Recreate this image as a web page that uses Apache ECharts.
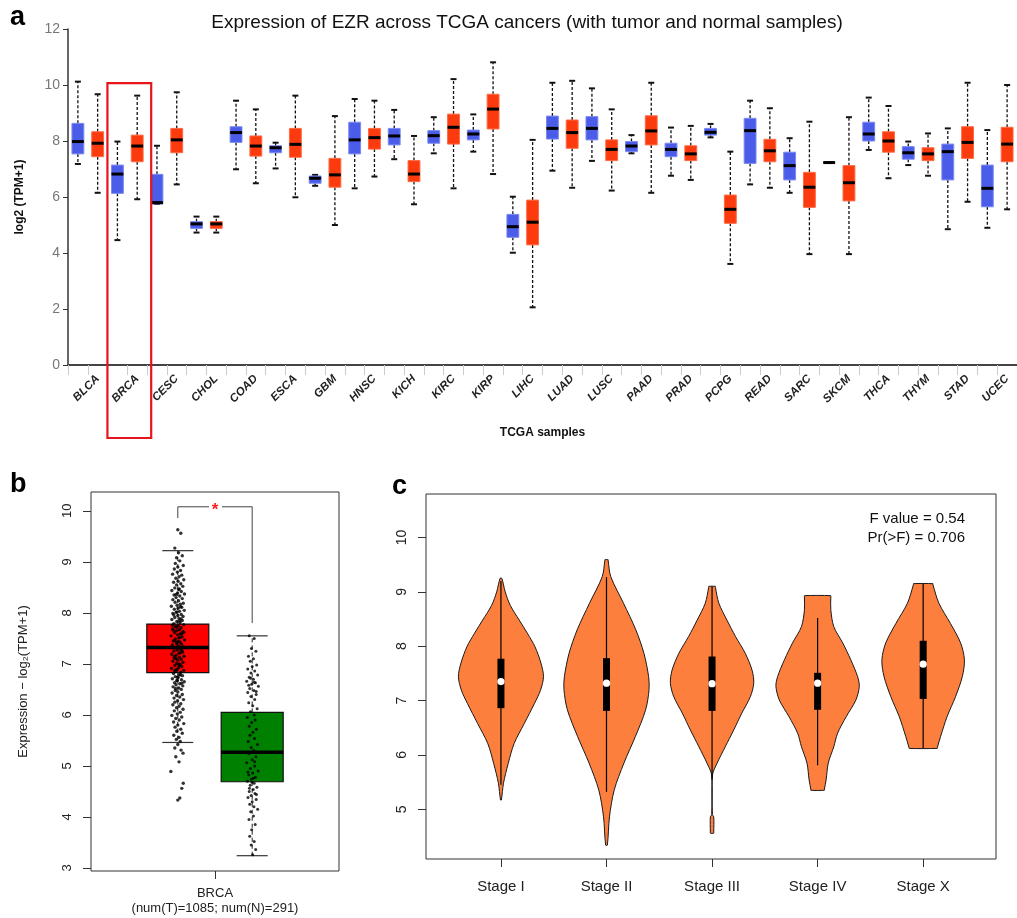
<!DOCTYPE html>
<html>
<head>
<meta charset="utf-8">
<script src="https://cdn.jsdelivr.net/npm/echarts@6/dist/echarts.min.js"></script>
<style>
  html, body { margin: 0; padding: 0; background: #fff; }
  #main { width: 1017px; height: 918px; }
</style>
</head>
<body>
<div id="main"></div>
<script>
// ---- panel a: EZR across TCGA cancers, [min, Q1, median, Q3, max]
const cancers = ['BLCA', 'BRCA', 'CESC', 'CHOL', 'COAD', 'ESCA', 'GBM', 'HNSC', 'KICH', 'KIRC', 'KIRP', 'LIHC',
  'LUAD', 'LUSC', 'PAAD', 'PRAD', 'PCPG', 'READ', 'SARC', 'SKCM', 'THCA', 'THYM', 'STAD', 'UCEC']
const normalBox = [
  [7.18, 7.54, 7.98, 8.63, 10.12], [4.46, 6.13, 6.82, 7.14, 7.98], [5.75, 5.75, 5.80, 6.81, 7.83],
  [4.73, 4.88, 5.04, 5.12, 5.30], [6.99, 7.95, 8.30, 8.51, 9.44], [7.02, 7.58, 7.76, 7.83, 7.94],
  [6.40, 6.49, 6.67, 6.75, 6.79], [6.31, 7.54, 8.04, 8.67, 9.50], [7.35, 7.86, 8.18, 8.45, 9.11],
  [7.56, 7.92, 8.19, 8.37, 8.85], [7.62, 8.04, 8.25, 8.39, 8.95], [4.01, 4.56, 4.94, 5.38, 6.01],
  [6.94, 8.07, 8.45, 8.89, 10.08], [7.29, 8.04, 8.45, 8.87, 9.88], [7.56, 7.62, 7.82, 7.98, 8.21],
  [6.76, 7.44, 7.70, 7.92, 8.48], [8.13, 8.21, 8.31, 8.45, 8.61], [6.45, 7.20, 8.37, 8.81, 9.44],
  [6.15, 6.61, 7.12, 7.60, 8.10], [7.23, 7.23, 7.23, 7.23, 7.23], [7.68, 8.00, 8.25, 8.67, 9.55],
  [7.14, 7.35, 7.58, 7.80, 7.98], [4.85, 6.61, 7.62, 7.89, 8.45], [4.90, 5.65, 6.31, 7.14, 8.39]
]
const tumorBox = [
  [6.15, 7.44, 7.92, 8.33, 9.67], [5.92, 7.26, 7.82, 8.21, 9.62], [6.45, 7.58, 8.04, 8.45, 9.74],
  [4.73, 4.88, 5.04, 5.12, 5.30], [6.49, 7.46, 7.82, 8.18, 9.13], [5.99, 7.42, 7.88, 8.45, 9.62],
  [5.00, 6.35, 6.79, 7.38, 8.89], [6.73, 7.71, 8.12, 8.45, 9.44], [5.74, 6.55, 6.82, 7.30, 8.18],
  [6.31, 7.89, 8.49, 8.96, 10.21], [6.82, 8.43, 9.14, 9.67, 10.81], [2.06, 4.29, 5.10, 5.89, 8.04],
  [6.33, 7.74, 8.30, 8.75, 10.15], [6.23, 7.30, 7.70, 8.04, 9.13], [6.15, 7.86, 8.36, 8.90, 10.08],
  [6.61, 7.30, 7.54, 7.83, 8.54], [3.61, 5.06, 5.56, 6.07, 7.62], [6.33, 7.26, 7.65, 8.06, 9.17],
  [3.96, 5.63, 6.35, 6.88, 8.69], [3.96, 5.86, 6.51, 7.12, 8.85], [6.67, 7.60, 8.00, 8.33, 9.25],
  [6.76, 7.30, 7.54, 7.76, 8.27], [5.83, 7.38, 7.95, 8.51, 10.08], [5.56, 7.26, 7.89, 8.49, 10.0]
]

// ---- panel b: BRCA tumor vs normal
const brcaBoxes = [[5.46, 6.83, 7.32, 7.78, 9.22], [3.24, 4.69, 5.27, 6.05, 7.55]]
const brcaPos = [0.85, 1.15]
const brcaColors = ['#ff0000', '#008000']
const yTicksB = [3, 4, 5, 6, 7, 8, 9, 10]
const bracketY = [9.86, 10.08, 7.8]
const tumorPoints = [
  [0.85, 9.63], [0.862, 9.56], [0.838, 9.27], [0.853, 9.18], [0.868, 9.12], [0.845, 9.08], [0.858, 9.02], [0.84, 8.97], [0.872, 8.93], [0.85, 8.9],
  [0.836, 8.86], [0.861, 8.83], [0.848, 8.8], [0.829, 8.76], [0.866, 8.74], [0.855, 8.71], [0.842, 8.68], [0.874, 8.65], [0.851, 8.62], [0.833, 8.6],
  [0.862, 8.57], [0.845, 8.55], [0.87, 8.52], [0.838, 8.49], [0.856, 8.47], [0.826, 8.44], [0.864, 8.42], [0.849, 8.39], [0.877, 8.37], [0.835, 8.35],
  [0.858, 8.33], [0.843, 8.3], [0.868, 8.28], [0.83, 8.26], [0.853, 8.24], [0.839, 8.21], [0.872, 8.19], [0.86, 8.17], [0.847, 8.15], [0.824, 8.13],
  [0.866, 8.11], [0.851, 8.09], [0.836, 8.07], [0.876, 8.05], [0.857, 8.03], [0.843, 8.01], [0.83, 7.99], [0.864, 7.97], [0.85, 7.95], [0.871, 7.93],
  [0.838, 7.91], [0.855, 7.89], [0.826, 7.87], [0.868, 7.85], [0.846, 7.83], [0.859, 7.81], [0.834, 7.79], [0.874, 7.77], [0.852, 7.75], [0.841, 7.73],
  [0.863, 7.71], [0.829, 7.69], [0.856, 7.67], [0.845, 7.65], [0.87, 7.63], [0.837, 7.61], [0.86, 7.59], [0.849, 7.57], [0.823, 7.55], [0.867, 7.53],
  [0.854, 7.51], [0.84, 7.49], [0.877, 7.47], [0.832, 7.45], [0.858, 7.43], [0.846, 7.41], [0.865, 7.39], [0.828, 7.37], [0.852, 7.35], [0.872, 7.33],
  [0.839, 7.31], [0.861, 7.29], [0.848, 7.27], [0.834, 7.25], [0.869, 7.23], [0.855, 7.21], [0.826, 7.19], [0.843, 7.17], [0.875, 7.15], [0.857, 7.13],
  [0.836, 7.11], [0.864, 7.09], [0.85, 7.07], [0.83, 7.05], [0.871, 7.03], [0.845, 7.01], [0.859, 6.99], [0.838, 6.97], [0.866, 6.95], [0.853, 6.93],
  [0.825, 6.91], [0.848, 6.89], [0.874, 6.87], [0.842, 6.85], [0.862, 6.83], [0.833, 6.81], [0.856, 6.79], [0.869, 6.77], [0.84, 6.75], [0.851, 6.73],
  [0.828, 6.71], [0.865, 6.69], [0.846, 6.67], [0.876, 6.65], [0.837, 6.63], [0.858, 6.61], [0.843, 6.59], [0.87, 6.57], [0.831, 6.55], [0.854, 6.53],
  [0.864, 6.5], [0.84, 6.48], [0.85, 6.45], [0.827, 6.43], [0.868, 6.4], [0.845, 6.38], [0.858, 6.35], [0.835, 6.33], [0.873, 6.3], [0.849, 6.28],
  [0.838, 6.25], [0.862, 6.22], [0.83, 6.2], [0.855, 6.17], [0.845, 6.14], [0.871, 6.11], [0.836, 6.08], [0.86, 6.05], [0.848, 6.02], [0.826, 5.99],
  [0.866, 5.96], [0.842, 5.93], [0.856, 5.9], [0.833, 5.86], [0.874, 5.83], [0.85, 5.8], [0.839, 5.76], [0.862, 5.72], [0.846, 5.68], [0.868, 5.64],
  [0.834, 5.6], [0.855, 5.56], [0.844, 5.52], [0.86, 5.48], [0.85, 5.42], [0.838, 5.35], [0.863, 5.31], [0.871, 5.25], [0.842, 5.18], [0.855, 5.08],
  [0.822, 4.89], [0.872, 4.66], [0.866, 4.56], [0.858, 4.37], [0.85, 4.33],
  [0.843, 8.36], [0.861, 8.12], [0.834, 7.96], [0.857, 7.84], [0.846, 7.72], [0.865, 7.58], [0.838, 7.46], [0.852, 7.34], [0.86, 7.22], [0.844, 7.1],
  [0.856, 6.98], [0.837, 6.86], [0.849, 6.74], [0.866, 6.62], [0.841, 6.52], [0.853, 8.46], [0.847, 8.02], [0.863, 7.88], [0.832, 7.66], [0.858, 7.52],
  [0.845, 7.4], [0.867, 7.26], [0.836, 7.14], [0.854, 7.0], [0.842, 6.88], [0.86, 6.78], [0.848, 6.68], [0.829, 7.76], [0.874, 7.62], [0.851, 7.44]
]
const normalPoints = [
  [1.138, 7.55], [1.158, 7.5], [1.147, 7.3], [1.165, 7.25], [1.135, 7.15], [1.155, 7.1], [1.142, 7.05], [1.168, 6.98], [1.15, 6.95], [1.132, 6.9],
  [1.16, 6.86], [1.145, 6.82], [1.172, 6.78], [1.138, 6.74], [1.155, 6.7], [1.128, 6.66], [1.163, 6.63], [1.148, 6.6], [1.175, 6.56], [1.14, 6.52],
  [1.157, 6.48], [1.132, 6.44], [1.166, 6.4], [1.145, 6.36], [1.16, 6.3], [1.136, 6.24], [1.152, 6.18], [1.17, 6.12], [1.143, 6.06], [1.158, 6.0],
  [1.13, 5.95], [1.162, 5.9], [1.148, 5.85], [1.138, 5.78], [1.167, 5.72], [1.153, 5.66], [1.141, 5.6], [1.159, 5.54], [1.134, 5.48], [1.171, 5.42],
  [1.146, 5.36], [1.156, 5.3], [1.137, 5.24], [1.165, 5.18], [1.15, 5.12], [1.128, 5.06], [1.16, 5.0], [1.143, 4.95], [1.174, 4.9], [1.152, 4.86],
  [1.136, 4.82], [1.163, 4.78], [1.147, 4.74], [1.131, 4.7], [1.158, 4.66], [1.142, 4.62], [1.169, 4.58], [1.154, 4.54], [1.138, 4.5], [1.161, 4.46],
  [1.146, 4.42], [1.133, 4.38], [1.166, 4.34], [1.15, 4.3], [1.14, 4.25], [1.157, 4.2], [1.172, 4.15], [1.144, 4.1], [1.155, 4.02], [1.137, 3.95],
  [1.162, 3.85], [1.148, 3.75], [1.14, 3.62], [1.158, 3.52], [1.146, 3.45], [1.164, 3.36], [1.152, 3.26],
  [1.155, 4.76], [1.139, 4.56], [1.167, 4.44], [1.149, 4.68], [1.133, 4.88], [1.16, 5.08], [1.144, 6.72], [1.158, 6.64], [1.136, 6.58], [1.166, 6.46]
]

// ---- panel c: violin by stage; profiles are [value, relative half-width]
const stages = ['Stage I', 'Stage II', 'Stage III', 'Stage IV', 'Stage X']
const violinStageI = [[5.17, 0.01], [5.48, 0.06], [5.84, 0.17], [6.21, 0.31], [6.58, 0.55], [6.95, 0.79], [7.19, 0.93],
  [7.44, 1.0], [7.69, 0.94], [7.99, 0.8], [8.24, 0.62], [8.48, 0.43], [8.75, 0.22], [9.0, 0.1], [9.25, 0.02]]
const violinStageII = [[4.34, 0.02], [4.86, 0.07], [5.35, 0.18], [5.85, 0.41], [6.34, 0.68], [6.83, 0.92], [7.2, 1.0],
  [7.44, 0.99], [7.87, 0.88], [8.3, 0.69], [8.79, 0.4], [9.28, 0.1], [9.57, 0.04], [9.59, 0.04]]
const violinStageIII = [[4.56, 0.04], [4.58, 0.04], [4.86, 0.04], [4.9, 0.008], [5.63, 0.01], [5.85, 0.12], [6.15, 0.31], [6.46, 0.51],
  [6.77, 0.7], [7.07, 0.9], [7.32, 0.98], [7.56, 0.94], [7.87, 0.78], [8.18, 0.55], [8.48, 0.35], [8.79, 0.16], [9.08, 0.08], [9.1, 0.08]]
const violinStageIV = [[5.35, 0.16], [5.37, 0.16], [5.54, 0.2], [5.85, 0.25], [6.15, 0.38], [6.4, 0.47], [6.7, 0.67], [7.01, 0.9],
  [7.26, 0.98], [7.44, 0.94], [7.75, 0.78], [8.06, 0.59], [8.36, 0.38], [8.67, 0.31], [8.91, 0.31], [8.93, 0.31]]
const violinStageX = [[6.12, 0.33], [6.14, 0.335], [6.34, 0.41], [6.7, 0.56], [7.07, 0.76], [7.44, 0.92], [7.75, 0.97], [8.06, 0.88],
  [8.42, 0.64], [8.79, 0.37], [9.13, 0.23], [9.15, 0.23]]
const violinBoxes = [[5.45, 6.86, 7.35, 7.77, 9.2], [5.32, 6.81, 7.32, 7.78, 9.27], [5.55, 6.81, 7.31, 7.81, 9.1],
  [5.81, 6.83, 7.32, 7.51, 8.52], [6.12, 7.03, 7.67, 8.10, 9.15]]
const yTicksC = [5, 6, 7, 8, 9, 10]
const fStats = ['F value = 0.54', 'Pr(>F) = 0.706']

const NARROW = "'Liberation Sans Narrow', 'Liberation Sans', Arial, sans-serif"
const SANS = "'Liberation Sans', Arial, sans-serif"

const slots = cancers.flatMap(c => [c + ' normal', c + ' tumor'])
const violins = [violinStageI, violinStageII, violinStageIII, violinStageIV, violinStageX]

const chart = echarts.init(document.getElementById('main'))

const tcgaBox = (fill, edge) => (params, api) => {
  const slot = api.value(0)
  const pMin = api.coord([slot, api.value(1)])
  const pQ1 = api.coord([slot, api.value(2)])
  const pMed = api.coord([slot, api.value(3)])
  const pQ3 = api.coord([slot, api.value(4)])
  const pMax = api.coord([slot, api.value(5)])
  const cx = pMed[0]
  const bw = api.size([1, 0])[0] * 0.6
  const dash = { stroke: '#111', lineWidth: 1.3, lineDash: [3, 2] }
  const cap = { stroke: '#111', lineWidth: 2 }
  return {
    type: 'group',
    children: [
      { type: 'line', shape: { x1: cx, y1: pQ3[1], x2: cx, y2: pMax[1] }, style: dash },
      { type: 'line', shape: { x1: cx, y1: pQ1[1], x2: cx, y2: pMin[1] }, style: dash },
      { type: 'line', shape: { x1: cx - 3, y1: pMax[1], x2: cx + 3, y2: pMax[1] }, style: cap },
      { type: 'line', shape: { x1: cx - 3, y1: pMin[1], x2: cx + 3, y2: pMin[1] }, style: cap },
      { type: 'rect', shape: { x: cx - bw / 2, y: pQ3[1], width: bw, height: pQ1[1] - pQ3[1] },
        style: { fill: fill, stroke: edge, lineWidth: 1 } },
      { type: 'line', shape: { x1: cx - bw / 2, y1: pMed[1], x2: cx + bw / 2, y2: pMed[1] },
        style: { stroke: '#000', lineWidth: 3 } }
    ]
  }
}

const brcaBox = (params, api) => {
  const x = api.value(0)
  const pMin = api.coord([x, api.value(1)])
  const pQ1 = api.coord([x, api.value(2)])
  const pMed = api.coord([x, api.value(3)])
  const pQ3 = api.coord([x, api.value(4)])
  const pMax = api.coord([x, api.value(5)])
  const cx = pMed[0]
  const bw = api.size([0.25, 0])[0]
  const dash = { stroke: '#222', lineWidth: 1, lineDash: [4, 3] }
  const cap = { stroke: '#333', lineWidth: 1.2 }
  return {
    type: 'group',
    children: [
      { type: 'line', shape: { x1: cx, y1: pQ3[1], x2: cx, y2: pMax[1] }, style: dash },
      { type: 'line', shape: { x1: cx, y1: pQ1[1], x2: cx, y2: pMin[1] }, style: dash },
      { type: 'line', shape: { x1: cx - bw / 4, y1: pMax[1], x2: cx + bw / 4, y2: pMax[1] }, style: cap },
      { type: 'line', shape: { x1: cx - bw / 4, y1: pMin[1], x2: cx + bw / 4, y2: pMin[1] }, style: cap },
      { type: 'rect', shape: { x: cx - bw / 2, y: pQ3[1], width: bw, height: pQ1[1] - pQ3[1] },
        style: { fill: brcaColors[params.dataIndex], stroke: '#111', lineWidth: 1.2 } },
      { type: 'line', shape: { x1: cx - bw / 2, y1: pMed[1], x2: cx + bw / 2, y2: pMed[1] },
        style: { stroke: '#000', lineWidth: 3.5 } }
    ]
  }
}

const bracket = (params, api) => {
  const p1 = api.coord([brcaPos[0], bracketY[0]])
  const p2 = api.coord([brcaPos[0], bracketY[1]])
  const pm = api.coord([1.0, bracketY[1]])
  const p3 = api.coord([brcaPos[1], bracketY[1]])
  const p4 = api.coord([brcaPos[1], bracketY[2]])
  const st = { stroke: '#444', lineWidth: 1, fill: null }
  return {
    type: 'group',
    children: [
      { type: 'polyline', shape: { points: [p1, p2, [pm[0] - 6, pm[1]]] }, style: st },
      { type: 'polyline', shape: { points: [[pm[0] + 7, pm[1]], p3, p4] }, style: st },
      { type: 'text', x: pm[0], y: pm[1] + 4,
        style: { text: '*', fill: '#ff2020', font: 'bold 17px ' + SANS, align: 'center', verticalAlign: 'middle' } }
    ]
  }
}

const VW = 0.403
const violin = (params, api) => {
  const i = params.dataIndex
  const x = api.value(0)
  const prof = violins[i]
  const b = violinBoxes[i]
  const right = prof.map(([y, w]) => api.coord([x + w * VW, y]))
  const left = prof.slice().reverse().map(([y, w]) => api.coord([x - w * VW, y]))
  const pLo = api.coord([x, b[0]])
  const pQ1 = api.coord([x, b[1]])
  const pMed = api.coord([x, b[2]])
  const pQ3 = api.coord([x, b[3]])
  const pHi = api.coord([x, b[4]])
  const cx = pMed[0]
  return {
    type: 'group',
    children: [
      { type: 'polygon', shape: { points: right.concat(left), smooth: 0.3 },
        style: { fill: '#fd7f3e', stroke: '#1a1a1a', lineWidth: 1 } },
      { type: 'line', shape: { x1: cx, y1: pLo[1], x2: cx, y2: pHi[1] }, style: { stroke: '#000', lineWidth: 1.2 } },
      { type: 'rect', shape: { x: cx - 3.5, y: pQ3[1], width: 7, height: pQ1[1] - pQ3[1] }, style: { fill: '#000' } },
      { type: 'circle', shape: { cx: cx, cy: pMed[1], r: 3.6 }, style: { fill: '#fff' } }
    ]
  }
}

const option = {
  animation: false,
  backgroundColor: '#fff',
  title: {
    text: 'Expression of EZR across TCGA cancers (with tumor and normal samples)',
    left: 522, top: 8, textAlign: 'center',
    textStyle: { fontFamily: NARROW, fontSize: 19, fontWeight: 'normal', color: '#111' }
  },
  grid: [
    { left: 68, top: 29, width: 960, height: 336 },
    { left: 91, top: 492, width: 248, height: 379, show: true, borderColor: '#333', borderWidth: 1 },
    { left: 426, top: 494, width: 570, height: 365, show: true, borderColor: '#333', borderWidth: 1 }
  ],
  xAxis: [
    {
      gridIndex: 0, type: 'category', data: slots, boundaryGap: true,
      axisLine: { lineStyle: { color: '#444', width: 2 } },
      axisTick: { show: true, interval: 0, length: 10, lineStyle: { color: '#ccc' } },
      axisLabel: {
        interval: 0, rotate: 45, margin: 12,
        formatter: v => (v.endsWith(' tumor') ? v.replace(' tumor', '') : ''),
        fontStyle: 'italic', fontWeight: 'bold', fontSize: 11.5, fontFamily: SANS, color: '#222'
      },
      splitLine: { show: false },
      name: 'TCGA samples', nameLocation: 'middle', nameGap: 62,
      nameTextStyle: { fontWeight: 'bold', fontSize: 12, fontFamily: SANS, color: '#111' }
    },
    {
      gridIndex: 1, type: 'value', min: 0.5, max: 1.5,
      axisLine: { show: false }, splitLine: { show: false },
      axisTick: { show: true, customValues: [1], length: 8, lineStyle: { color: '#333' } },
      axisLabel: {
        customValues: [1], margin: 15, lineHeight: 15,
        formatter: () => 'BRCA\n(num(T)=1085; num(N)=291)',
        fontSize: 13, fontFamily: SANS, color: '#222'
      }
    },
    {
      gridIndex: 2, type: 'value', min: 0.29, max: 5.69,
      axisLine: { show: false }, splitLine: { show: false },
      axisTick: { show: true, customValues: [1, 2, 3, 4, 5], length: 8, lineStyle: { color: '#333' } },
      axisLabel: {
        customValues: [1, 2, 3, 4, 5], margin: 20,
        formatter: v => stages[Math.round(v) - 1],
        fontSize: 15, fontFamily: NARROW, color: '#222'
      }
    }
  ],
  yAxis: [
    {
      gridIndex: 0, type: 'value', min: 0, max: 12, interval: 2,
      axisLine: { show: true, lineStyle: { color: '#333', width: 1.5 } },
      axisTick: { show: true, length: 5, lineStyle: { color: '#333' } },
      axisLabel: { margin: 8, fontSize: 14, fontFamily: NARROW, color: '#777' },
      splitLine: { show: false },
      name: 'log2 (TPM+1)', nameLocation: 'middle', nameGap: 42, nameRotate: 90,
      nameTextStyle: { fontWeight: 'bold', fontSize: 12, fontFamily: SANS, color: '#111' }
    },
    {
      gridIndex: 1, type: 'value', min: 2.94, max: 10.37,
      axisLine: { show: false }, splitLine: { show: false },
      axisTick: { show: true, customValues: yTicksB, length: 8, lineStyle: { color: '#333' } },
      axisLabel: { customValues: yTicksB, rotate: 90, margin: 17, fontSize: 13, fontFamily: SANS, color: '#222' },
      name: 'Expression \u2212 log\u2082(TPM+1)', nameLocation: 'middle', nameGap: 61, nameRotate: 90,
      nameTextStyle: { fontSize: 13, fontFamily: NARROW, color: '#222' }
    },
    {
      gridIndex: 2, type: 'value', min: 4.085, max: 10.8,
      axisLine: { show: false }, splitLine: { show: false },
      axisTick: { show: true, customValues: yTicksC, length: 8, lineStyle: { color: '#333' } },
      axisLabel: { customValues: yTicksC, rotate: 90, margin: 17, fontSize: 14, fontFamily: SANS, color: '#222' }
    }
  ],
  series: [
    {
      type: 'custom', name: 'normal', xAxisIndex: 0, yAxisIndex: 0,
      renderItem: tcgaBox('#4b5de8', '#7b89f2'),
      encode: { x: 0, y: [1, 2, 3, 4, 5] },
      data: normalBox.map((b, i) => [2 * i, ...b])
    },
    {
      type: 'custom', name: 'tumor', xAxisIndex: 0, yAxisIndex: 0,
      renderItem: tcgaBox('#fb3b0e', '#ff6a44'),
      encode: { x: 0, y: [1, 2, 3, 4, 5] },
      data: tumorBox.map((b, i) => [2 * i + 1, ...b])
    },
    {
      type: 'custom', xAxisIndex: 1, yAxisIndex: 1, renderItem: brcaBox,
      encode: { x: 0, y: [1, 2, 3, 4, 5] },
      data: brcaBoxes.map((b, i) => [brcaPos[i], ...b])
    },
    {
      type: 'scatter', xAxisIndex: 1, yAxisIndex: 1, symbolSize: 3.4,
      itemStyle: { color: '#000' }, data: tumorPoints, z: 5
    },
    {
      type: 'scatter', xAxisIndex: 1, yAxisIndex: 1, symbolSize: 3,
      itemStyle: { color: '#000' }, data: normalPoints, z: 5
    },
    {
      type: 'custom', xAxisIndex: 1, yAxisIndex: 1, renderItem: bracket,
      data: [[1, bracketY[1]]], z: 6
    },
    {
      type: 'custom', xAxisIndex: 2, yAxisIndex: 2, renderItem: violin,
      encode: { x: 0, y: 1 },
      data: violinBoxes.map((b, i) => [i + 1, b[2]])
    }
  ],
  graphic: [
    { id: 'la', type: 'text', x: 10, y: 18, style: { text: 'a', font: 'bold 27px ' + SANS, fill: '#000', verticalAlign: 'middle' } },
    { id: 'lb', type: 'text', x: 10, y: 485, style: { text: 'b', font: 'bold 27px ' + SANS, fill: '#000', verticalAlign: 'middle' } },
    { id: 'lc', type: 'text', x: 392, y: 487, style: { text: 'c', font: 'bold 27px ' + SANS, fill: '#000', verticalAlign: 'middle' } },
    { id: 'f1', type: 'text', x: 965, y: 519, style: { text: fStats[0], font: '15px ' + SANS, fill: '#111', align: 'right', verticalAlign: 'middle' } },
    { id: 'f2', type: 'text', x: 965, y: 538, style: { text: fStats[1], font: '15px ' + SANS, fill: '#111', align: 'right', verticalAlign: 'middle' } }
  ]
}

chart.setOption(option)

// red frame around the BRCA pair, placed from the axis scale
const brcaIdx = cancers.indexOf('BRCA')
const xl = chart.convertToPixel({ xAxisIndex: 0 }, 2 * brcaIdx) - 10
const xr = chart.convertToPixel({ xAxisIndex: 0 }, 2 * brcaIdx + 1) + 14
const yt = chart.convertToPixel({ yAxisIndex: 0 }, 10.07)
const y0 = chart.convertToPixel({ yAxisIndex: 0 }, 0)
chart.setOption({
  graphic: [{
    id: 'brcaFrame', type: 'rect', z: 10,
    shape: { x: xl, y: yt, width: xr - xl, height: y0 + 73 - yt },
    style: { fill: null, stroke: '#e8141c', lineWidth: 2.2 }
  }]
})
</script>
</body>
</html>
